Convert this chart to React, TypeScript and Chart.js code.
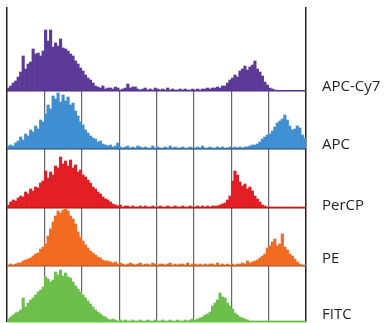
import React, { useEffect, useRef } from 'react';
import { Chart, registerables } from 'chart.js';

Chart.register(...registerables);

const BIN_COUNT = 120;
const X_MAX = 8;

const channels = ['APC-Cy7', 'APC', 'PerCP', 'PE', 'FITC'];

const apcCy7 = [
  3, 5, 8, 10, 14, 19, 35, 22, 27, 29,
  42, 37, 38, 35, 40, 61, 50, 61, 44, 48,
  45, 52, 43, 42, 40, 37, 35, 30, 27, 23,
  20, 16, 13, 11, 8, 5, 4, 3, 5, 2,
  3, 3, 2, 4, 3, 1, 2, 3, 7, 3,
  4, 4, 2, 1, 2, 3, 1, 2, 1, 3,
  2, 1, 2, 1, 3, 1, 2, 1, 1, 2,
  1, 2, 1, 1, 2, 1, 2, 1, 2, 2,
  3, 2, 3, 3, 4, 3, 5, 5, 8, 11,
  13, 16, 14, 20, 22, 25, 21, 24, 26, 30,
  22, 19, 15, 9, 6, 3, 2, 1, 0, 0,
  0, 0, 0, 0, 0, 0, 0, 0, 0, 0,
];

const apc = [
  3, 4, 3, 6, 8, 12, 9, 15, 13, 19,
  17, 23, 20, 29, 27, 35, 44, 40, 53, 50,
  56, 47, 54, 48, 52, 44, 46, 38, 33, 27,
  24, 19, 16, 13, 11, 10, 7, 8, 5, 4,
  3, 4, 2, 3, 6, 2, 1, 2, 3, 1,
  2, 1, 3, 2, 1, 2, 1, 1, 3, 1,
  2, 1, 1, 2, 1, 3, 1, 2, 1, 1,
  2, 1, 1, 2, 1, 1, 2, 1, 3, 1,
  1, 2, 1, 1, 2, 1, 2, 1, 1, 2,
  1, 2, 1, 2, 1, 2, 2, 3, 4, 4,
  5, 7, 10, 12, 14, 15, 18, 22, 26, 28,
  30, 34, 29, 23, 19, 20, 23, 21, 14, 11,
];

const percp = [
  3, 6, 8, 7, 10, 12, 11, 16, 14, 19,
  17, 21, 20, 25, 27, 37, 30, 36, 33, 42,
  40, 51, 44, 47, 42, 48, 40, 43, 36, 38,
  33, 31, 28, 25, 21, 19, 16, 14, 11, 9,
  8, 6, 4, 3, 2, 3, 1, 2, 2, 1,
  2, 1, 1, 2, 1, 2, 1, 1, 2, 1,
  1, 2, 1, 1, 2, 1, 1, 2, 1, 1,
  2, 1, 1, 2, 1, 1, 2, 1, 2, 1,
  2, 1, 2, 2, 2, 3, 4, 5, 8, 12,
  27, 37, 33, 26, 22, 24, 19, 21, 17, 12,
  9, 6, 3, 2, 1, 1, 1, 1, 1, 1,
  1, 1, 1, 1, 1, 1, 1, 1, 1, 1,
];

const pe = [
  1, 2, 1, 2, 3, 3, 5, 6, 7, 8,
  10, 12, 13, 17, 19, 22, 30, 37, 44, 50,
  55, 53, 56, 57, 55, 50, 47, 42, 34, 29,
  25, 21, 18, 15, 13, 11, 9, 8, 6, 5,
  5, 4, 3, 4, 2, 3, 2, 1, 2, 3,
  2, 1, 2, 3, 1, 2, 2, 1, 3, 2,
  1, 2, 2, 1, 2, 3, 1, 2, 1, 2,
  2, 1, 3, 1, 2, 2, 1, 2, 1, 2,
  1, 2, 2, 1, 3, 1, 2, 1, 2, 1,
  2, 1, 2, 2, 3, 2, 5, 3, 4, 5,
  6, 8, 10, 12, 18, 20, 24, 27, 20, 22,
  32, 19, 16, 12, 10, 7, 4, 2, 1, 1,
];

const fitc = [
  3, 5, 7, 9, 10, 12, 24, 15, 19, 22,
  24, 27, 30, 32, 35, 45, 43, 40, 42, 50,
  47, 52, 46, 49, 45, 44, 40, 36, 33, 30,
  27, 24, 21, 18, 15, 12, 10, 8, 6, 5,
  3, 2, 3, 2, 1, 2, 1, 2, 1, 1,
  2, 1, 1, 2, 1, 1, 2, 1, 1, 2,
  1, 1, 2, 1, 1, 2, 1, 1, 2, 1,
  1, 2, 1, 2, 3, 2, 3, 4, 5, 7,
  8, 10, 16, 19, 22, 29, 25, 24, 19, 16,
  13, 9, 7, 5, 4, 3, 2, 1, 1, 1,
  1, 1, 1, 1, 1, 1, 1, 1, 1, 1,
  1, 1, 1, 1, 1, 1, 1, 1, 1, 1,
];

const series = [apcCy7, apc, percp, pe, fitc];
const panelMax = [84, 58, 59, 58, 56];
const labelLift = [4, 4, 2, 7, 7];

const fillColors = ['#5c3b98', '#3f8fd2', '#e31e24', '#f26b21', '#6cbf4a'];
const baseColors = ['#4a2a80', '#1f3650', '#7a1a1a', '#8a4b2a', '#6cbf4a'];

const binCenters = Array.from({ length: BIN_COUNT }, (_, i) => ((i + 0.5) * X_MAX) / BIN_COUNT);

const topPanelMask = {
  id: 'topPanelMask',
  beforeDatasetsDraw(chart: any) {
    const s = chart.scales.y0;
    const a = chart.chartArea;
    const ctx = chart.ctx;
    ctx.save();
    ctx.fillStyle = '#ffffff';
    ctx.fillRect(a.left + 1, s.top - 1, a.right - a.left - 2, s.bottom - s.top);
    ctx.restore();
  },
};

export default function App() {
  const canvasRef = useRef<HTMLCanvasElement | null>(null);

  useEffect(() => {
    const canvas = canvasRef.current;
    if (!canvas) return;

    const scales: any = {
      x: {
        type: 'linear',
        position: 'bottom',
        min: 0,
        max: X_MAX,
        offset: false,
        ticks: { display: false, stepSize: 1 },
        grid: {
          offset: false,
          drawTicks: false,
          color: (c: any) =>
            c.tick && (c.tick.value === 0 || c.tick.value === X_MAX) ? '#231f20' : '#666666',
          lineWidth: (c: any) =>
            c.tick && (c.tick.value === 0 || c.tick.value === X_MAX) ? 1.5 : 1.2,
        },
        border: { display: false },
        afterFit: (axis: any) => {
          axis.height = 0;
          axis.paddingLeft = 0;
          axis.paddingRight = 0;
        },
      },
    };

    channels.forEach((name, i) => {
      scales['y' + i] = {
        type: 'linear',
        position: 'right',
        stack: 'panels',
        stackWeight: panelMax[i],
        min: 0,
        max: panelMax[i],
        offset: false,
        afterBuildTicks: (axis: any) => {
          axis.ticks = [{ value: 0 }, { value: labelLift[i] }];
        },
        afterFit: (axis: any) => {
          axis.width = 79;
          axis.paddingTop = 0;
          axis.paddingBottom = 0;
        },
        ticks: {
          autoSkip: false,
          padding: 16,
          color: '#231f20',
          font: { family: '"Open Sans", "Noto Sans", sans-serif', size: 15 },
          callback: (_v: any, idx: number) => (idx === 0 ? '' : name),
        },
        grid: {
          drawTicks: false,
          color: (c: any) => (c.tick && c.tick.value === 0 ? baseColors[i] : 'rgba(0,0,0,0)'),
          lineWidth: 1.5,
        },
        border: { display: false },
      };
    });

    const chart = new Chart(canvas, {
      type: 'bar',
      data: {
        datasets: series.map((vals, i) => ({
          label: channels[i],
          data: binCenters.map((x, j) => ({ x, y: vals[j] })),
          yAxisID: 'y' + i,
          backgroundColor: fillColors[i],
          borderWidth: 0,
          grouped: false,
          barPercentage: 1,
          categoryPercentage: 1,
        })),
      },
      options: {
        animation: false,
        responsive: false,
        layout: { padding: { top: 7, left: 7, right: 0, bottom: 1 } },
        plugins: {
          legend: { display: false },
          tooltip: { enabled: false },
        },
        scales,
      } as any,
      plugins: [topPanelMask],
    });

    return () => chart.destroy();
  }, []);

  return (
    <canvas
      ref={canvasRef}
      width={385}
      height={323}
      style={{ position: 'fixed', left: 0, top: 0, width: 385, height: 323 }}
    />
  );
}
